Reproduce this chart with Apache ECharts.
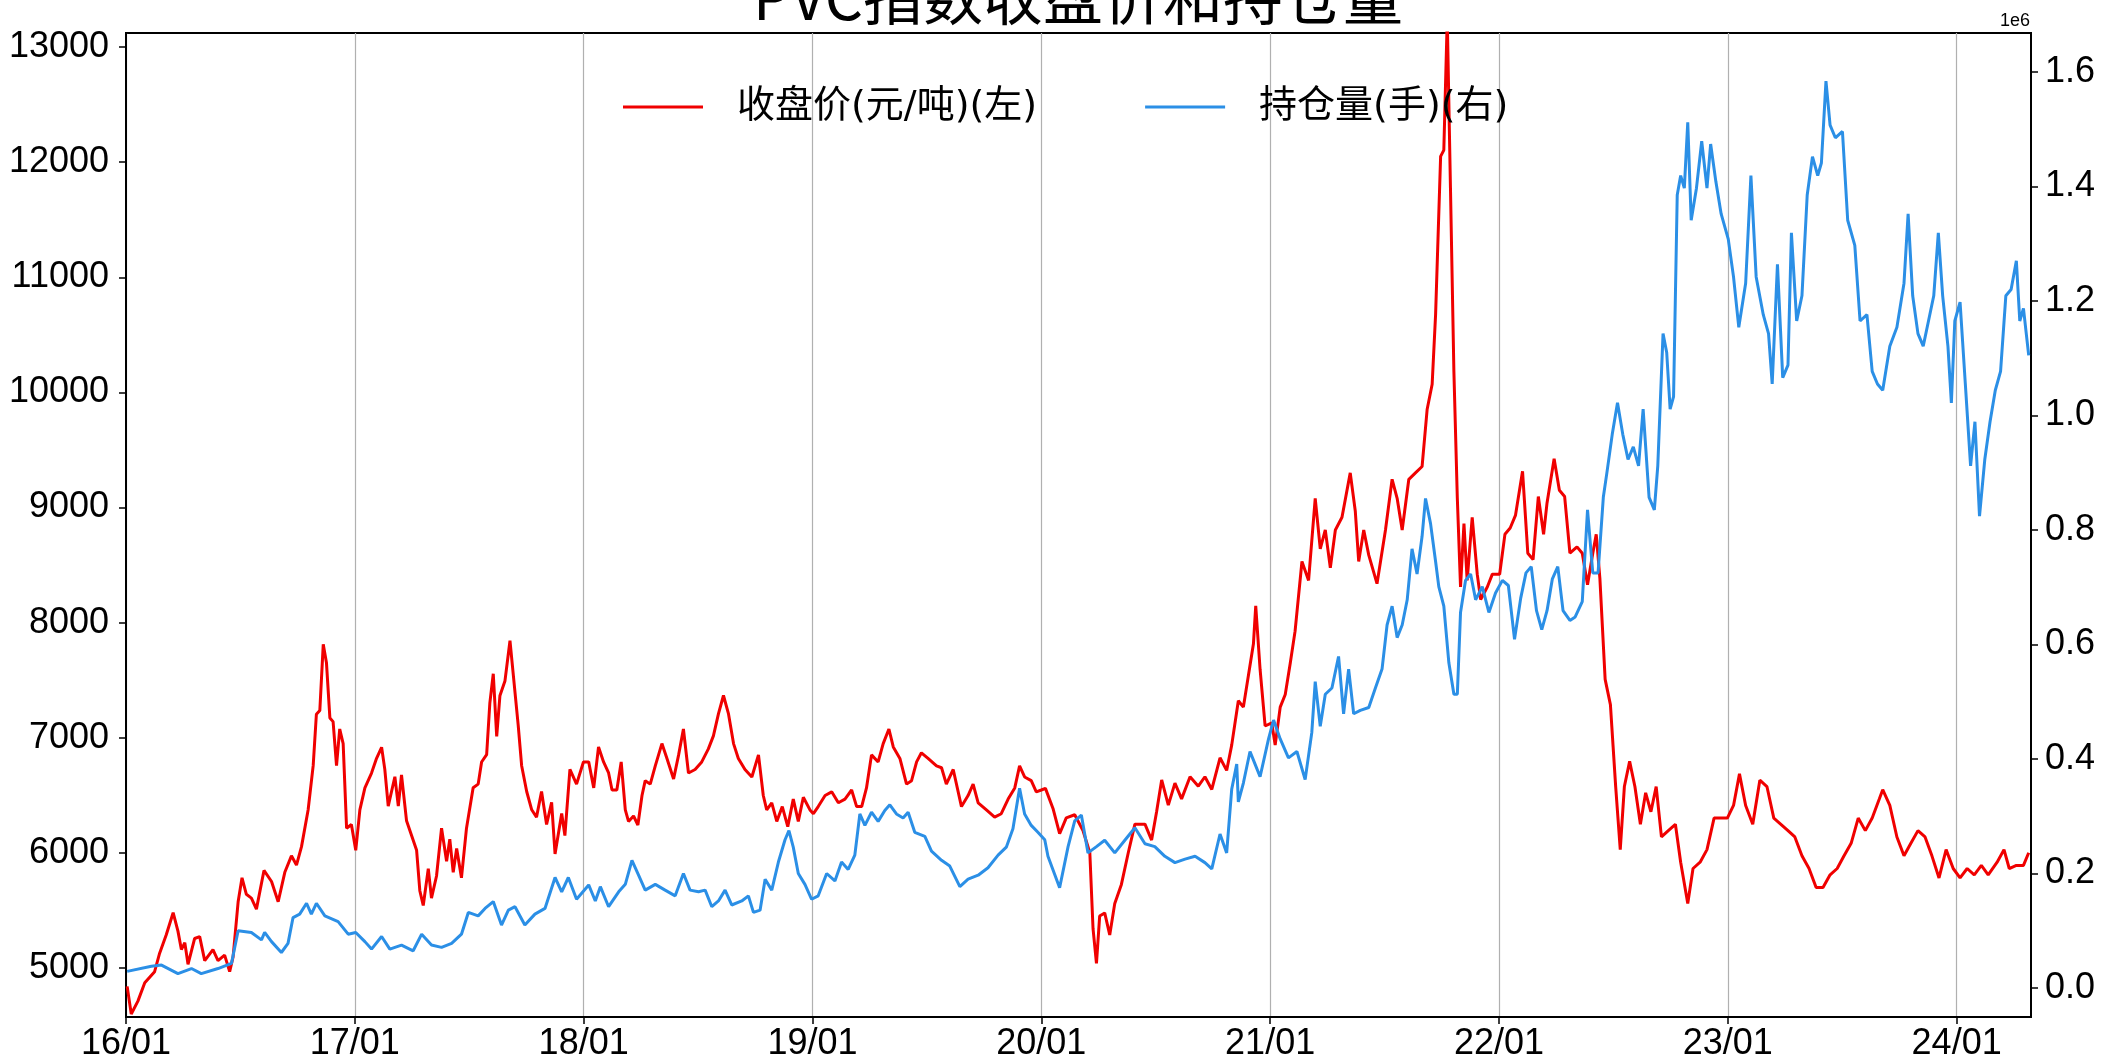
<!DOCTYPE html>
<html><head><meta charset="utf-8">
<script src="https://cdn.jsdelivr.net/npm/echarts@6/dist/echarts.min.js"></script>
<style>html,body{margin:0;padding:0;background:#fff}#c{width:2110px;height:1061px}</style>
</head><body><div id="c"></div>
<script>
// ---- data (x in decimal years) ----
const chartTitle = 'PVC指数收盘价和持仓量';
const seriesNames = ['收盘价(元/吨)(左)', '持仓量(手)(右)'];
const xTickYears = [2016, 2017, 2018, 2019, 2020, 2021, 2022, 2023, 2024];
const leftTicks = [5000, 6000, 7000, 8000, 9000, 10000, 11000, 12000, 13000];
const rightTicks = [0, 200000, 400000, 600000, 800000, 1000000, 1200000, 1400000, 1600000];

const priceYear = [2016.005,2016.023,2016.052,2016.082,2016.125,2016.147,2016.176,2016.206,2016.227,2016.242,2016.257,2016.271,2016.300,2016.322,2016.344,2016.380,2016.402,2016.431,2016.453,2016.468,2016.490,2016.507,2016.526,2016.548,2016.570,2016.603,2016.636,2016.665,2016.694,2016.723,2016.745,2016.767,2016.796,2016.818,2016.832,2016.847,2016.862,2016.876,2016.891,2016.905,2016.920,2016.934,2016.949,2016.964,2016.985,
2017.004,2017.022,2017.044,2017.073,2017.095,2017.117,2017.131,2017.146,2017.175,2017.190,2017.204,2017.226,2017.248,2017.270,2017.284,2017.299,2017.321,2017.335,2017.357,2017.379,2017.401,2017.415,2017.430,2017.445,2017.466,2017.488,2017.517,2017.539,2017.554,2017.576,2017.590,2017.605,2017.620,2017.634,2017.656,2017.678,2017.692,2017.714,2017.729,2017.751,2017.773,2017.794,2017.816,2017.838,2017.860,2017.875,2017.904,2017.918,2017.940,2017.969,2017.999,
2018.022,2018.044,2018.065,2018.087,2018.109,2018.124,2018.145,2018.164,2018.182,2018.196,2018.218,2018.237,2018.255,2018.269,2018.291,2018.313,2018.342,2018.364,2018.393,2018.415,2018.436,2018.458,2018.487,2018.516,2018.545,2018.567,2018.589,2018.611,2018.633,2018.655,2018.676,2018.705,2018.735,2018.764,2018.785,2018.800,2018.822,2018.844,2018.868,2018.892,2018.916,2018.938,2018.960,2018.989,
2019.004,2019.025,2019.055,2019.084,2019.113,2019.142,2019.171,2019.193,2019.215,2019.236,2019.258,2019.287,2019.309,2019.334,2019.353,2019.382,2019.411,2019.433,2019.455,2019.476,2019.505,2019.542,2019.564,2019.585,2019.615,2019.651,2019.680,2019.702,2019.724,2019.760,2019.796,2019.825,2019.855,2019.884,2019.905,2019.927,2019.956,2019.978,
2020.000,2020.018,2020.051,2020.080,2020.109,2020.146,2020.182,2020.212,2020.226,2020.241,2020.255,2020.277,2020.299,2020.321,2020.350,2020.380,2020.409,2020.453,2020.482,2020.504,2020.526,2020.555,2020.584,2020.613,2020.650,2020.686,2020.715,2020.745,2020.781,2020.810,2020.832,2020.861,2020.883,2020.905,2020.927,2020.937,2020.956,2020.978,
2021.007,2021.022,2021.044,2021.066,2021.088,2021.109,2021.139,2021.168,2021.197,2021.219,2021.241,2021.263,2021.285,2021.314,2021.350,2021.372,2021.387,2021.409,2021.431,2021.467,2021.504,2021.533,2021.555,2021.577,2021.606,2021.635,2021.664,2021.686,2021.708,2021.723,2021.745,2021.759,2021.774,2021.788,2021.803,2021.818,2021.832,2021.847,2021.861,2021.883,2021.905,2021.920,2021.949,2021.971,
2022.003,2022.026,2022.049,2022.072,2022.103,2022.126,2022.149,2022.172,2022.195,2022.210,2022.241,2022.264,2022.287,2022.310,2022.341,2022.364,2022.387,2022.410,2022.425,2022.441,2022.464,2022.487,2022.510,2022.530,2022.548,2022.571,2022.594,2022.618,2022.641,2022.664,2022.687,2022.710,2022.740,2022.771,2022.794,2022.825,2022.848,2022.879,2022.909,2022.940,2022.971,2022.998,
2023.025,2023.051,2023.078,2023.109,2023.140,2023.171,2023.201,2023.232,2023.263,2023.293,2023.324,2023.355,2023.386,2023.416,2023.447,2023.478,2023.508,2023.539,2023.570,2023.601,2023.631,2023.662,2023.677,2023.708,2023.739,2023.770,2023.800,2023.831,2023.862,2023.892,2023.923,2023.954,2023.985,
2024.015,2024.046,2024.077,2024.108,2024.138,2024.177,2024.207,2024.230,2024.261,2024.292,2024.315];
const priceClose = [4840,4600,4712,4872,4968,5128,5288,5480,5320,5160,5220,5032,5256,5272,5064,5160,5064,5112,4968,5096,5575,5783,5640,5607,5511,5847,5751,5575,5831,5974,5894,6054,6374,6757,7204,7236,7811,7652,7172,7140,6757,7076,6949,6214,6246,
6022,6374,6565,6693,6821,6917,6725,6406,6661,6406,6677,6278,6150,6022,5671,5543,5863,5607,5799,6214,5927,6118,5831,6038,5783,6214,6565,6597,6789,6853,7300,7556,7012,7364,7492,7843,7556,7108,6757,6533,6374,6310,6533,6246,6438,5990,6342,6150,6725,6597,6789,
6790,6564,6920,6790,6694,6546,6546,6790,6373,6273,6320,6242,6498,6627,6597,6755,6949,6820,6642,6851,7076,6694,6724,6790,6903,7016,7207,7367,7207,6949,6820,6724,6659,6851,6498,6373,6435,6273,6402,6227,6467,6273,6483,6373,
6340,6402,6498,6530,6435,6467,6546,6402,6402,6564,6851,6790,6949,7076,6920,6820,6597,6627,6790,6869,6820,6755,6739,6597,6724,6402,6498,6597,6435,6373,6310,6340,6467,6564,6755,6659,6627,6530,
6546,6560,6386,6166,6304,6331,6194,6001,5341,5039,5451,5478,5287,5561,5726,6001,6249,6249,6111,6359,6633,6414,6606,6469,6661,6579,6661,6551,6826,6716,6936,7321,7266,7540,7816,8145,7595,7102,
7129,6936,7266,7376,7650,7926,8531,8366,9080,8640,8805,8476,8805,8915,9301,8970,8531,8805,8586,8338,8805,9245,9080,8805,9245,9301,9356,9851,10071,10675,12050,12105,13250,11777,10181,9080,8310,8860,8366,8915,8421,8201,8310,8421,
8420,8767,8822,8931,9314,8603,8548,9095,8767,9040,9423,9150,9095,8603,8658,8603,8330,8603,8767,8384,7507,7288,6576,6028,6576,6795,6576,6248,6521,6357,6576,6138,6193,6248,5919,5560,5864,5919,6028,6302,6302,6302,
6412,6686,6412,6248,6631,6576,6302,6248,6193,6138,5974,5864,5699,5699,5809,5864,5974,6083,6302,6193,6302,6467,6549,6412,6138,5974,6083,6193,6138,5974,5782,6028,5864,
5782,5864,5809,5891,5809,5919,6028,5864,5891,5891,6001];

const oiYear = [2016.005,2016.111,2016.155,2016.227,2016.286,2016.329,2016.402,2016.461,2016.490,2016.548,2016.592,2016.606,2016.636,2016.679,2016.708,2016.730,2016.759,2016.789,2016.810,2016.832,2016.869,2016.927,2016.971,
2017.004,2017.044,2017.073,2017.117,2017.153,2017.204,2017.255,2017.292,2017.335,2017.379,2017.423,2017.466,2017.496,2017.539,2017.569,2017.605,2017.641,2017.671,2017.700,2017.743,2017.787,2017.831,2017.875,2017.904,2017.933,2017.969,
2018.022,2018.051,2018.073,2018.109,2018.153,2018.182,2018.211,2018.240,2018.269,2018.313,2018.356,2018.400,2018.436,2018.465,2018.502,2018.531,2018.560,2018.589,2018.618,2018.647,2018.691,2018.720,2018.742,2018.771,2018.793,2018.822,2018.851,2018.880,2018.897,2018.916,2018.938,2018.967,2018.996,
2019.025,2019.062,2019.098,2019.127,2019.156,2019.185,2019.207,2019.229,2019.258,2019.287,2019.316,2019.338,2019.367,2019.396,2019.418,2019.447,2019.491,2019.520,2019.564,2019.600,2019.644,2019.680,2019.724,2019.767,2019.811,2019.847,2019.876,2019.905,2019.927,2019.956,2019.985,
2020.015,2020.029,2020.080,2020.117,2020.146,2020.175,2020.204,2020.241,2020.277,2020.321,2020.365,2020.409,2020.453,2020.496,2020.540,2020.584,2020.628,2020.672,2020.715,2020.745,2020.781,2020.810,2020.832,2020.854,2020.861,2020.883,2020.912,2020.934,2020.956,2020.993,
2021.015,2021.044,2021.080,2021.117,2021.153,2021.182,2021.197,2021.219,2021.241,2021.270,2021.299,2021.321,2021.343,2021.365,2021.394,2021.431,2021.460,2021.489,2021.511,2021.533,2021.555,2021.577,2021.599,2021.620,2021.642,2021.664,2021.679,2021.701,2021.723,2021.737,2021.759,2021.781,2021.803,2021.818,2021.832,2021.854,2021.876,2021.898,2021.927,2021.956,2021.985,
2022.015,2022.041,2022.068,2022.095,2022.118,2022.141,2022.164,2022.187,2022.210,2022.233,2022.257,2022.280,2022.310,2022.333,2022.364,2022.387,2022.410,2022.433,2022.456,2022.472,2022.495,2022.518,2022.541,2022.564,2022.587,2022.610,2022.630,2022.656,2022.679,2022.694,2022.717,2022.733,2022.748,2022.763,2022.779,2022.794,2022.810,2022.825,2022.840,2022.863,2022.886,2022.909,2022.925,2022.948,2022.971,
2023.002,2023.025,2023.048,2023.078,2023.101,2023.124,2023.155,2023.178,2023.194,2023.217,2023.240,2023.263,2023.278,2023.301,2023.324,2023.347,2023.370,2023.393,2023.409,2023.429,2023.447,2023.470,2023.501,2023.524,2023.555,2023.578,2023.608,2023.631,2023.654,2023.677,2023.708,2023.739,2023.770,2023.788,2023.808,2023.831,2023.854,2023.877,2023.900,2023.920,2023.939,2023.962,2023.977,2023.992,
2024.015,2024.038,2024.061,2024.080,2024.100,2024.123,2024.146,2024.169,2024.192,2024.215,2024.238,2024.261,2024.276,2024.292,2024.315];
const oiHands = [29000,38000,40000,25000,34000,25000,34000,43000,100000,97000,84000,97000,81000,62000,78000,123000,129000,148000,129000,148000,126000,116000,94000,
97000,81000,68000,90000,68000,75000,65000,94000,75000,71000,78000,94000,132000,126000,139000,151000,110000,136000,142000,110000,129000,139000,193000,168000,193000,155000,
180000,152000,177000,142000,168000,181000,223000,197000,171000,181000,171000,161000,200000,171000,168000,171000,142000,152000,171000,145000,152000,161000,132000,136000,190000,171000,220000,259000,275000,246000,200000,181000,155000,
161000,200000,187000,220000,207000,232000,304000,284000,307000,291000,310000,320000,304000,297000,307000,272000,265000,239000,223000,213000,177000,190000,197000,210000,232000,246000,278000,349000,304000,284000,272000,
259000,230000,175000,247000,292000,302000,236000,247000,258000,236000,258000,280000,252000,247000,230000,219000,225000,230000,219000,208000,269000,236000,347000,391000,325000,358000,413000,391000,369000,435000,
468000,435000,402000,413000,364000,446000,535000,457000,513000,524000,579000,479000,557000,479000,485000,490000,524000,557000,634000,667000,612000,634000,678000,767000,723000,789000,855000,811000,745000,701000,667000,568000,513000,513000,656000,712000,723000,678000,701000,656000,690000,
712000,703000,609000,681000,725000,736000,659000,626000,659000,714000,736000,659000,642000,648000,675000,835000,725000,725000,857000,901000,967000,1022000,967000,923000,945000,912000,1011000,857000,835000,912000,1143000,1110000,1011000,1033000,1385000,1419000,1397000,1512000,1341000,1397000,1479000,1397000,1474000,1408000,1352000,
1308000,1242000,1154000,1231000,1419000,1242000,1176000,1143000,1055000,1264000,1066000,1088000,1319000,1165000,1209000,1385000,1452000,1419000,1441000,1584000,1507000,1485000,1496000,1341000,1297000,1165000,1176000,1077000,1055000,1044000,1121000,1154000,1231000,1352000,1209000,1143000,1121000,1165000,1209000,1319000,1209000,1121000,1022000,1165000,
1198000,1055000,912000,989000,824000,923000,989000,1044000,1077000,1209000,1220000,1270000,1165000,1187000,1105000];

// ---- chart ----
const priceData = priceYear.map((t, i) => [t, priceClose[i]]);
const oiData = oiYear.map((t, i) => [t, oiHands[i]]);
const tickFont = 'Liberation Sans, Arial, sans-serif';
const cjkFont = 'DejaVu Sans, Noto Sans CJK SC, sans-serif';
const titleFont = 'Noto Sans CJK SC, sans-serif';
const chart = echarts.init(document.getElementById('c'), null, { renderer: 'canvas' });
chart.setOption({
  animation: false,
  backgroundColor: '#ffffff',
  title: {
    text: chartTitle, left: 1078, top: -33, textAlign: 'center', padding: 0,
    textStyle: { fontSize: 60, fontWeight: 'normal', fontFamily: titleFont, color: '#000' }
  },
  legend: {
    data: seriesNames, left: 623, top: 88, padding: 0, icon: 'rect',
    itemWidth: 80, itemHeight: 3, itemGap: 108,
    textStyle: { fontSize: 38, fontFamily: cjkFont, color: '#000', padding: [0, 0, 0, 29] }
  },
  graphic: [{ type: 'text', right: 80, top: 12, style: { text: '1e6', fontSize: 18, fontFamily: tickFont, fill: '#000' } }],
  grid: {
    left: 126, right: 79, top: 33, bottom: 44, containLabel: false, outerBoundsMode: 'none',
    show: true, borderColor: '#000', borderWidth: 2, backgroundColor: 'transparent'
  },
  xAxis: {
    type: 'value', min: 2016, max: 2024.325,
    axisLine: { show: true, onZero: false, lineStyle: { color: '#000', width: 2 } },
    axisTick: { show: true, inside: false, length: 7, customValues: xTickYears, lineStyle: { color: '#000', width: 1.5 } },
    axisLabel: { customValues: xTickYears, margin: 9, fontSize: 36, fontFamily: tickFont, color: '#000',
      formatter: v => String(Math.round(v)).slice(2) + '/01' },
    splitLine: { show: true, lineStyle: { color: '#b0b0b0', width: 1.2 } }
  },
  yAxis: [{
    type: 'value', position: 'left', min: 4574, max: 13122,
    axisLine: { show: true, onZero: false, lineStyle: { color: '#000', width: 2 } },
    axisTick: { show: true, inside: false, length: 7, customValues: leftTicks, lineStyle: { color: '#000', width: 1.5 } },
    axisLabel: { customValues: leftTicks, margin: 17, fontSize: 36, fontFamily: tickFont, color: '#000',
      formatter: v => String(Math.round(v)) },
    splitLine: { show: false }
  }, {
    type: 'value', position: 'right', min: -50650, max: 1668000,
    axisLine: { show: true, onZero: false, lineStyle: { color: '#000', width: 2 } },
    axisTick: { show: true, inside: false, length: 7, customValues: rightTicks, lineStyle: { color: '#000', width: 1.5 } },
    axisLabel: { customValues: rightTicks, margin: 14, fontSize: 36, fontFamily: tickFont, color: '#000',
      formatter: v => (v / 1e6).toFixed(1) },
    splitLine: { show: false }
  }],
  series: [{
    name: seriesNames[0], type: 'line', yAxisIndex: 0, data: priceData, showSymbol: false, symbol: 'none',
    clip: true, color: '#f00000', lineStyle: { color: '#f00000', width: 3 }
  }, {
    name: seriesNames[1], type: 'line', yAxisIndex: 1, data: oiData, showSymbol: false, symbol: 'none',
    clip: true, color: '#2b8fe6', lineStyle: { color: '#2b8fe6', width: 3 }
  }]
});
</script>
</body></html>
